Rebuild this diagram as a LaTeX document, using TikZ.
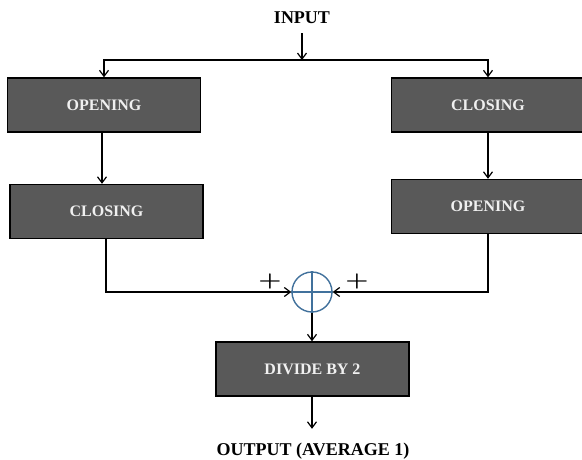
\documentclass[tikz,border=0pt]{standalone}
\usepackage{fontspec}
\setmainfont{Liberation Serif}
\usetikzlibrary{arrows.meta}
\definecolor{boxfill}{HTML}{595959}
\definecolor{boxtext}{HTML}{F0F0F0}
\definecolor{sumblue}{HTML}{41719C}
\tikzset{
  stage/.style={draw=black, line width=1.4pt, fill=boxfill, text=boxtext,
    minimum width=193pt, minimum height=54pt, inner sep=0pt,
    font=\fontsize{16}{16}\selectfont\bfseries},
  label/.style={font=\fontsize{18}{18}\selectfont\bfseries, text=black,
    text height=12pt, text depth=0pt, inner xsep=0pt},
  sign/.style={inner sep=0pt},
  arr/.style={line width=1.4pt, -{Straight Barb[length=6pt,width=9pt,line width=1.2pt]}},
}
\begin{document}
\begin{tikzpicture}[x=1pt,y=-1pt]
\useasboundingbox (0,0) rectangle (582,459);
\clip (0,0) rectangle (582,459);

% input and its split
\node[label, anchor=base, inner ysep=9.5pt] (in) at (302,23.5) {INPUT};
\coordinate (split) at (302,60);

% left branch: opening then closing
\node[stage] (op1) at (104,105) {OPENING};
\node[stage] (cl1) at (106.5,211.5) {CLOSING};

% right branch: closing then opening
\node[stage] (cl2) at (488,105) {CLOSING};
\node[stage] (op2) at (488,206.5) {OPENING};

% summing junction
\node[circle, draw=sumblue, line width=1.4pt, fill=white, minimum size=40pt, inner sep=0pt] (sum) at (312,292) {};
\draw[sumblue, line width=1.4pt] (sum.north) -- (sum.south) (sum.west) -- (sum.east);
\node[sign] (pl) at (270,281.5) {\scalebox{2.6}[2.0]{\boldmath$+$}};
\node[sign] (pr) at (357,281.5) {\scalebox{2.6}[2.0]{\boldmath$+$}};

% averaging
\node[stage] (div) at (312.5,369) {DIVIDE BY 2};
\node[label, anchor=base, inner ysep=14pt] (out) at (313,455) {OUTPUT (AVERAGE 1)};

% connectors
\draw[arr] (in.south) -- (split);
\draw[arr] (split) -| (op1.north);
\draw[arr] (split) -| (cl2.north);
\draw[arr] (op1.south -| 102,0) -- (cl1.north -| 102,0);
\draw[arr] (cl2.south) -- (op2.north);
\draw[arr] (cl1.south -| 106,0) |- (sum.west);
\draw[arr] (op2.south) |- (sum.east);
\draw[arr] (sum.south) -- (div.north -| sum.south);
\draw[arr] (div.south -| sum.south) -- (out.north -| sum.south);
\end{tikzpicture}
\end{document}
